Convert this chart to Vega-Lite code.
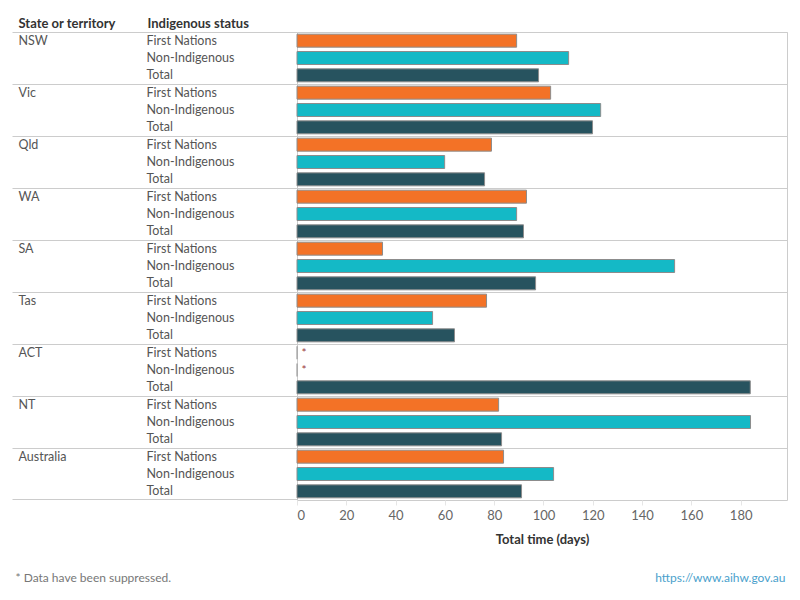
{
  "$schema": "https://vega.github.io/schema/vega-lite/v6.json",
  "width": 490,
  "height": 468,
  "autosize": {"type": "none"},
  "padding": {"left": 297, "top": 32, "right": 13, "bottom": 100},
  "background": "white",
  "config": {
    "font": "Lato",
    "view": {"stroke": "#cccccc", "strokeWidth": 1}
  },
  "data": {
    "values": [
      {"key": "NSW|First Nations", "state": "NSW", "status": "First Nations", "days": 89.1, "note": ""},
      {"key": "NSW|Non-Indigenous", "state": "NSW", "status": "Non-Indigenous", "days": 110.2, "note": ""},
      {"key": "NSW|Total", "state": "NSW", "status": "Total", "days": 98.0, "note": ""},
      {"key": "Vic|First Nations", "state": "Vic", "status": "First Nations", "days": 102.9, "note": ""},
      {"key": "Vic|Non-Indigenous", "state": "Vic", "status": "Non-Indigenous", "days": 123.2, "note": ""},
      {"key": "Vic|Total", "state": "Vic", "status": "Total", "days": 119.9, "note": ""},
      {"key": "Qld|First Nations", "state": "Qld", "status": "First Nations", "days": 78.9, "note": ""},
      {"key": "Qld|Non-Indigenous", "state": "Qld", "status": "Non-Indigenous", "days": 59.9, "note": ""},
      {"key": "Qld|Total", "state": "Qld", "status": "Total", "days": 76.1, "note": ""},
      {"key": "WA|First Nations", "state": "WA", "status": "First Nations", "days": 93.1, "note": ""},
      {"key": "WA|Non-Indigenous", "state": "WA", "status": "Non-Indigenous", "days": 89.1, "note": ""},
      {"key": "WA|Total", "state": "WA", "status": "Total", "days": 91.9, "note": ""},
      {"key": "SA|First Nations", "state": "SA", "status": "First Nations", "days": 34.7, "note": ""},
      {"key": "SA|Non-Indigenous", "state": "SA", "status": "Non-Indigenous", "days": 153.2, "note": ""},
      {"key": "SA|Total", "state": "SA", "status": "Total", "days": 96.8, "note": ""},
      {"key": "Tas|First Nations", "state": "Tas", "status": "First Nations", "days": 76.9, "note": ""},
      {"key": "Tas|Non-Indigenous", "state": "Tas", "status": "Non-Indigenous", "days": 55.0, "note": ""},
      {"key": "Tas|Total", "state": "Tas", "status": "Total", "days": 63.9, "note": ""},
      {"key": "ACT|First Nations", "state": "ACT", "status": "First Nations", "days": null, "note": "*"},
      {"key": "ACT|Non-Indigenous", "state": "ACT", "status": "Non-Indigenous", "days": null, "note": "*"},
      {"key": "ACT|Total", "state": "ACT", "status": "Total", "days": 183.9, "note": ""},
      {"key": "NT|First Nations", "state": "NT", "status": "First Nations", "days": 81.8, "note": ""},
      {"key": "NT|Non-Indigenous", "state": "NT", "status": "Non-Indigenous", "days": 184.0, "note": ""},
      {"key": "NT|Total", "state": "NT", "status": "Total", "days": 83.0, "note": ""},
      {"key": "Australia|First Nations", "state": "Australia", "status": "First Nations", "days": 83.8, "note": ""},
      {"key": "Australia|Non-Indigenous", "state": "Australia", "status": "Non-Indigenous", "days": 104.1, "note": ""},
      {"key": "Australia|Total", "state": "Australia", "status": "Total", "days": 91.1, "note": ""}
    ]
  },
  "layer": [
    {
      "mark": {"type": "bar", "height": {"band": 0.75}, "stroke": "#8c8c8c", "strokeWidth": 1},
      "encoding": {
        "y": {
          "field": "key",
          "type": "nominal",
          "scale": {
            "domain": [
              "NSW|First Nations", "NSW|Non-Indigenous", "NSW|Total",
              "Vic|First Nations", "Vic|Non-Indigenous", "Vic|Total",
              "Qld|First Nations", "Qld|Non-Indigenous", "Qld|Total",
              "WA|First Nations", "WA|Non-Indigenous", "WA|Total",
              "SA|First Nations", "SA|Non-Indigenous", "SA|Total",
              "Tas|First Nations", "Tas|Non-Indigenous", "Tas|Total",
              "ACT|First Nations", "ACT|Non-Indigenous", "ACT|Total",
              "NT|First Nations", "NT|Non-Indigenous", "NT|Total",
              "Australia|First Nations", "Australia|Non-Indigenous", "Australia|Total"
            ],
            "paddingInner": 0,
            "paddingOuter": 0
          },
          "axis": {
            "orient": "left",
            "title": "Indigenous status",
            "titleAngle": 0,
            "titleX": -150,
            "titleY": -9,
            "titleAlign": "left",
            "titleBaseline": "middle",
            "titleFontWeight": "bold",
            "titleFontSize": 13,
            "titleColor": "#333333",
            "labelExpr": "split(datum.value, '|')[1]",
            "labelAlign": "left",
            "labelBaseline": "middle",
            "labelPadding": 151,
            "labelFontSize": 12.5,
            "labelColor": "#555555",
            "ticks": false,
            "domain": false,
            "grid": false
          }
        },
        "x": {
          "field": "days",
          "type": "quantitative",
          "scale": {"domain": [0, 198.8], "nice": false, "zero": true},
          "axis": {
            "orient": "bottom",
            "values": [0, 20, 40, 60, 80, 100, 120, 140, 160, 180],
            "title": "Total time (days)",
            "titleFontWeight": "bold",
            "titleFontSize": 13,
            "titleColor": "#333333",
            "titlePadding": 11,
            "labelColor": "#666666",
            "labelFontSize": 13,
            "labelPadding": 4,
            "domain": false,
            "ticks": true,
            "tickColor": "#e6e6e6",
            "tickSize": 5,
            "grid": false
          }
        },
        "color": {
          "field": "status",
          "type": "nominal",
          "scale": {
            "domain": ["First Nations", "Non-Indigenous", "Total"],
            "range": ["#F37226", "#14B9C6", "#27535F"]
          },
          "legend": null
        }
      }
    },
    {
      "mark": {"type": "text", "dx": 7, "align": "center", "baseline": "middle", "fontSize": 12, "color": "#9b3a3a"},
      "encoding": {
        "y": {
          "field": "key",
          "type": "nominal",
          "axis": {
            "orient": "left",
            "title": "State or territory",
            "titleAngle": 0,
            "titleX": -279,
            "titleY": -9,
            "titleAlign": "left",
            "titleBaseline": "middle",
            "titleFontWeight": "bold",
            "titleFontSize": 13,
            "titleColor": "#333333",
            "labelExpr": "split(datum.value, '|')[1] == 'First Nations' ? split(datum.value, '|')[0] : ''",
            "labelAlign": "left",
            "labelBaseline": "middle",
            "labelPadding": -6,
            "labelFontSize": 12.5,
            "labelColor": "#555555",
            "bandPosition": 0,
            "ticks": true,
            "tickSize": 285,
            "tickColor": "#cccccc",
            "tickWidth": 1,
            "tickOpacity": {"condition": {"test": "indexof(datum.value, '|First Nations') >= 0", "value": 1}, "value": 0},
            "grid": true,
            "gridColor": "#cccccc",
            "gridWidth": 1,
            "gridOpacity": {"condition": {"test": "indexof(datum.value, '|First Nations') >= 0", "value": 1}, "value": 0},
            "domain": false
          }
        },
        "x": {
          "datum": 0,
          "type": "quantitative",
          "axis": {
            "orient": "bottom",
            "labels": false,
            "ticks": false,
            "domain": false,
            "grid": false,
            "title": "* Data have been suppressed.",
            "titleX": -282,
            "titleY": 77,
            "titleAlign": "left",
            "titleBaseline": "middle",
            "titleFontWeight": "normal",
            "titleFontSize": 12,
            "titleColor": "#777777"
          }
        },
        "text": {"field": "note", "type": "nominal"}
      }
    },
    {
      "mark": {"type": "tick", "thickness": 1, "size": 13, "color": "#8c8c8c"},
      "encoding": {
        "y": {
          "field": "key",
          "type": "nominal",
          "axis": {
            "orient": "left",
            "title": null,
            "labels": false,
            "domain": false,
            "grid": false,
            "bandPosition": 1,
            "ticks": true,
            "tickSize": 285,
            "tickColor": "#cccccc",
            "tickWidth": 1,
            "tickOpacity": {"condition": {"test": "datum.value == 'Australia|Total'", "value": 1}, "value": 0}
          }
        },
        "x": {
          "datum": 0,
          "type": "quantitative",
          "axis": {
            "orient": "bottom",
            "labels": false,
            "ticks": false,
            "domain": false,
            "grid": false,
            "title": "https://www.aihw.gov.au",
            "titleX": 488,
            "titleY": 77,
            "titleAlign": "right",
            "titleBaseline": "middle",
            "titleFontWeight": "normal",
            "titleFontSize": 12,
            "titleColor": "#4a9fcc"
          }
        },
        "opacity": {"condition": {"test": "datum.days == null", "value": 1}, "value": 0}
      }
    }
  ],
  "resolve": {"axis": {"x": "independent", "y": "independent"}}
}
